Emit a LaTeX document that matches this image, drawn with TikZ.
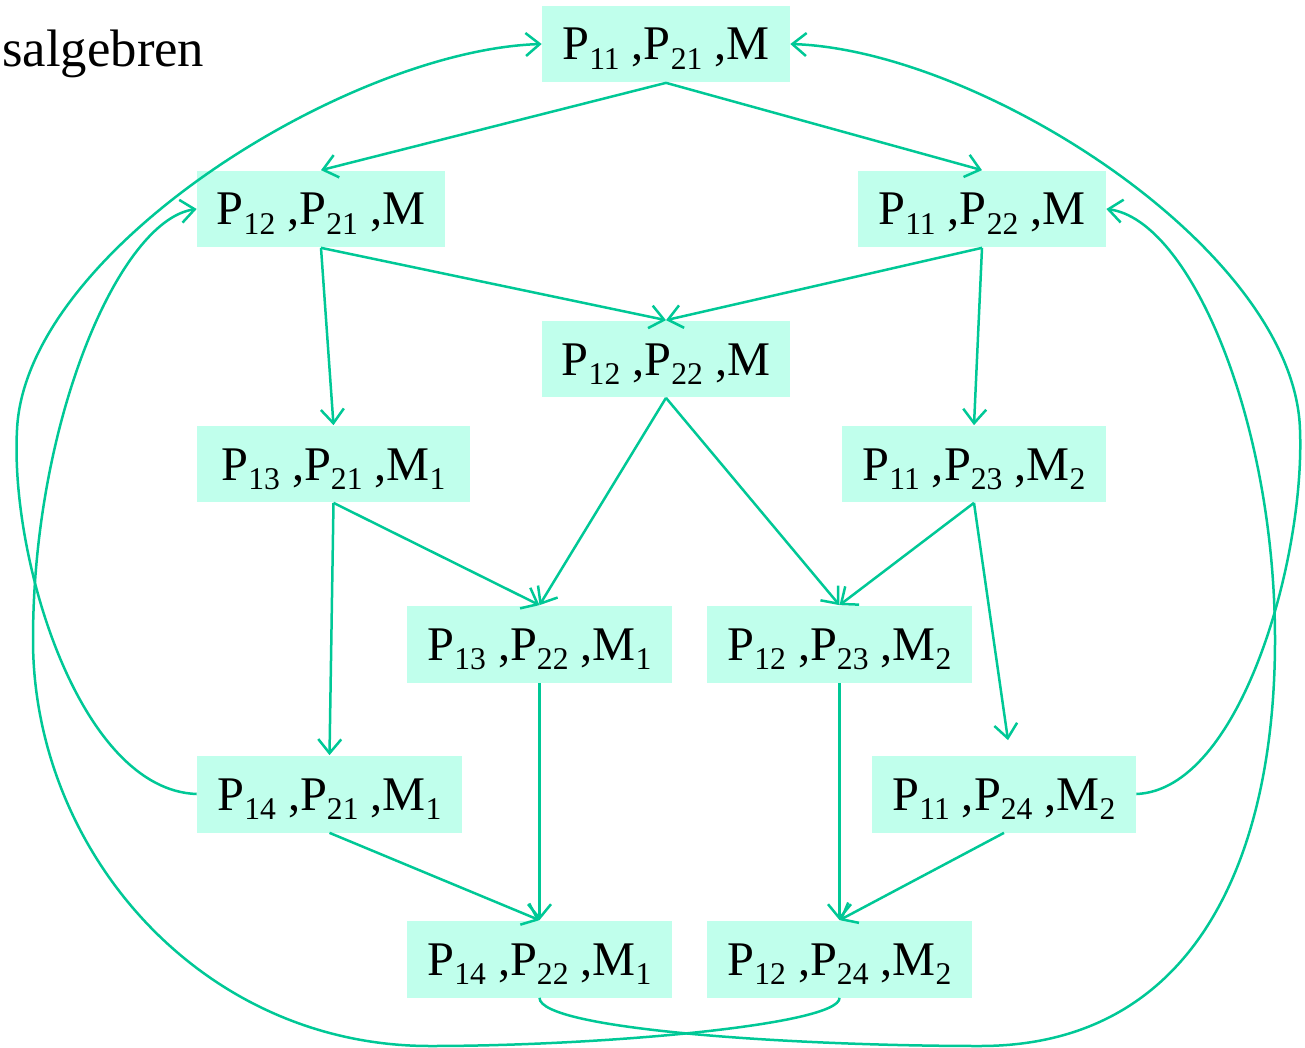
\documentclass[tikz,border=0pt]{standalone}
\usepackage{fontspec}
\setmainfont{Liberation Serif}
\usepackage{tikz}
\usetikzlibrary{arrows.meta, positioning, calc}
\definecolor{mTeal}{HTML}{00C896}
\definecolor{mMint}{HTML}{C0FFEC}
\newcommand{\sbs}[1]{\raisebox{-0.2em}{\fontsize{18}{18}\selectfont #1}}

\begin{document}
\begin{tikzpicture}[x=0.02cm, y=-0.02cm,
    lattice/.style={fill=mMint, inner sep=0pt, minimum height=1.54cm, minimum width=#1,
      text height=0.64cm, text depth=0pt, font=\fontsize{27.5}{30}\selectfont},
    link/.style={draw=mTeal, line width=0.05cm, -{Straight Barb[length=0.28cm, width=0.46cm]}}]
  \useasboundingbox (0,0) rectangle (1305,1048);
  \node[anchor=base west, inner sep=0pt, font=\fontsize{30}{32}\selectfont] (title) at (2,66) {salgebren};
  % lattice elements
  \foreach \nm/\x/\y/\w/\txt in
    {n1/666/44/4.96cm/{P\sbs{11} ,P\sbs{21} ,M},
     n2/321/209/4.96cm/{P\sbs{12} ,P\sbs{21} ,M},
     n3/982/209/4.96cm/{P\sbs{11} ,P\sbs{22} ,M},
     n4/666/359/4.96cm/{P\sbs{12} ,P\sbs{22} ,M},
     n5/333.5/464/5.46cm/{P\sbs{13} ,P\sbs{21} ,M\sbs{1}},
     n6/974/464/5.28cm/{P\sbs{11} ,P\sbs{23} ,M\sbs{2}},
     n7/539.5/644/5.3cm/{P\sbs{13} ,P\sbs{22} ,M\sbs{1}},
     n8/839.5/644/5.3cm/{P\sbs{12} ,P\sbs{23} ,M\sbs{2}},
     n9/329.5/794/5.3cm/{P\sbs{14} ,P\sbs{21} ,M\sbs{1}},
     n10/1004/794/5.28cm/{P\sbs{11} ,P\sbs{24} ,M\sbs{2}},
     n11/539.5/959/5.3cm/{P\sbs{14} ,P\sbs{22} ,M\sbs{1}},
     n12/839.5/959/5.3cm/{P\sbs{12} ,P\sbs{24} ,M\sbs{2}}}
    \node[lattice=\w] (\nm) at (\x,\y) {\txt};
  % covering relations
  \foreach \a/\b in {n1/n2, n1/n3, n2/n4, n3/n4, n2/n5, n3/n6, n4/n7, n4/n8,
                     n5/n7, n5/n9, n6/n8, n7/n11, n9/n11, n8/n12, n10/n12}
    \draw[link] (\a.south) -- (\b.north);
  \draw[link] (n6.south) -- ([xshift=0.08cm, yshift=0.3cm]n10.north);
  % wrap-around arcs
  \draw[link] (n9.west) .. controls (80,790) and (10,560) .. (17,430)
    .. controls (25,250) and (350,50) .. (n1.west);
  \draw[link] (n12.south) .. controls (840,1025) and (600,1046) .. (430,1046)
    .. controls (200,1046) and (33,850) .. (33,640)
    .. controls (33,420) and (120,220) .. (n2.west);
  \draw[link] (n11.south) .. controls (540,1030) and (800,1046) .. (980,1046)
    .. controls (1200,1046) and (1275,850) .. (1275,640)
    .. controls (1275,420) and (1190,220) .. (n3.east);
  \draw[link] (n10.east) .. controls (1240,790) and (1305,560) .. (1300,430)
    .. controls (1295,250) and (980,50) .. (n1.east);
\end{tikzpicture}
\end{document}
